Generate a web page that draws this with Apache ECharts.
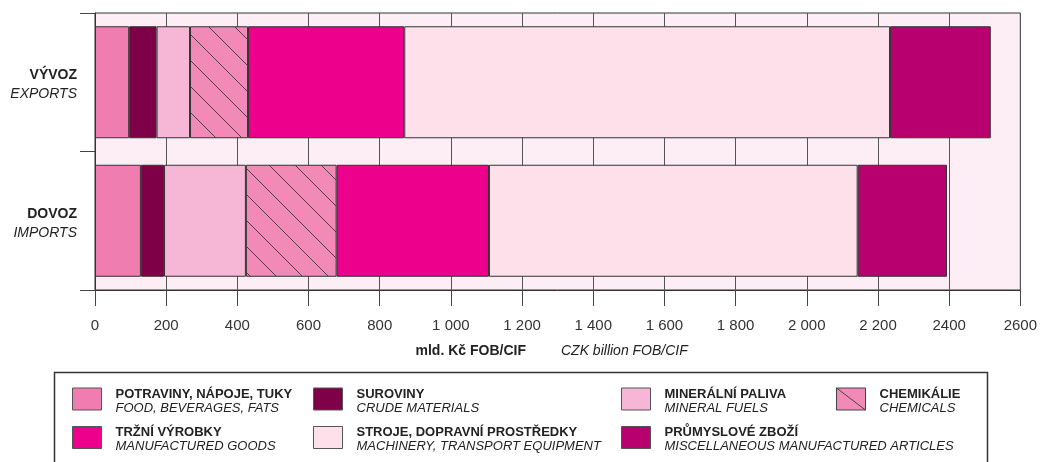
<!DOCTYPE html>
<html>
<head>
<meta charset="utf-8">
<script src="https://cdn.jsdelivr.net/npm/echarts@6/dist/echarts.min.js"></script>
<style>
html,body{margin:0;padding:0;background:#fff;}
#chart{width:1040px;height:462px;}
</style>
</head>
<body>
<div id="chart"></div>
<script>
// ---- data ----
var categoriesCz = ['VÝVOZ', 'DOVOZ'];
var categoriesEn = ['EXPORTS', 'IMPORTS'];
var tickLabels = ['0', '200', '400', '600', '800', '1 000', '1 200', '1 400', '1 600', '1 800', '2 000', '2 200', '2400', '2600'];

var seriesNamesCz = ['POTRAVINY, NÁPOJE, TUKY', 'SUROVINY', 'MINERÁLNÍ PALIVA', 'CHEMIKÁLIE', 'TRŽNÍ VÝROBKY', 'STROJE, DOPRAVNÍ PROSTŘEDKY', 'PRŮMYSLOVÉ ZBOŽÍ'];
var seriesNamesEn = ['FOOD, BEVERAGES, FATS', 'CRUDE MATERIALS', 'MINERAL FUELS', 'CHEMICALS', 'MANUFACTURED GOODS', 'MACHINERY, TRANSPORT EQUIPMENT', 'MISCELLANEOUS MANUFACTURED ARTICLES'];

// [exports, imports], CZK billion
var food = [96, 129];
var crude = [77, 65];
var fuels = [94, 230];
var chemicals = [163, 255];
var manufactured = [439, 428];
var machinery = [1365, 1036];
var misc = [283, 251];

var seriesValues = [food, crude, fuels, chemicals, manufactured, machinery, misc];

// ---- styles ----
function hatchTile(w, h, bg) {
  var c = document.createElement('canvas');
  c.width = w; c.height = h;
  var ctx = c.getContext('2d');
  ctx.fillStyle = bg;
  ctx.fillRect(0, 0, w, h);
  ctx.strokeStyle = '#3a3a3a';
  ctx.lineWidth = 0.9;
  ctx.beginPath();
  ctx.moveTo(-2 * w / h, -2);
  ctx.lineTo(w + 2 * w / h, h + 2);
  ctx.stroke();
  return c;
}
var chemBg = '#f28ab8';
var hatchPattern = { image: hatchTile(26, 26, chemBg), repeat: 'repeat' };

var colors = ['#f07db0', '#7e0046', '#f6b6d5', hatchPattern, '#ec008c', '#fde0ea', '#b8006e'];

var names = seriesNamesCz.map(function (n, i) { return n + '|' + seriesNamesEn[i]; });

var series = seriesValues.map(function (vals, i) {
  return {
    name: names[i],
    type: 'bar',
    stack: 'total',
    barWidth: 112,
    data: vals,
    itemStyle: { color: colors[i], borderColor: '#333', borderWidth: 1 },
    emphasis: { disabled: true }
  };
});

var FONT = 'Liberation Sans, Arial, sans-serif';
var legendText = {
  fontFamily: FONT,
  color: '#222',
  padding: [0, 0, 0, 9],
  rich: {
    sp: { fontSize: 4, lineHeight: 4, width: 1 },
    b: { fontWeight: 'bold', fontSize: 13, lineHeight: 14, color: '#222', fontFamily: FONT },
    i: { fontStyle: 'italic', fontSize: 13, lineHeight: 14, color: '#222', fontFamily: FONT }
  }
};
function legendFormatter(name) {
  var p = name.split('|');
  return '{sp| }\n{b|' + p[0] + '}\n{i|' + p[1] + '}';
}
function makeLegend(left, idxs) {
  return {
    left: left,
    top: 383,
    orient: 'vertical',
    padding: 0,
    itemGap: 7,
    itemWidth: 29,
    itemHeight: 22,
    selectedMode: false,
    icon: 'rect',
    itemStyle: { borderColor: '#555', borderWidth: 1 },
    textStyle: legendText,
    formatter: legendFormatter,
    data: idxs.map(function (k) {
      var d = { name: names[k] };
      if (k === 3) {
        d.icon = 'path://M0,0L29,0L29,22L0,22ZM0,0L29,22';
        d.itemStyle = { color: chemBg, borderColor: '#444', borderWidth: 1 };
      }
      return d;
    })
  };
}

var option = {
  animation: false,
  backgroundColor: '#fff',
  textStyle: { fontFamily: FONT },
  grid: {
    left: 95, right: 19, top: 13, bottom: 172,
    show: true, backgroundColor: '#fdeef5', borderColor: '#333', borderWidth: 1
  },
  xAxis: {
    type: 'value',
    min: 0, max: 2600, interval: 200,
    axisLine: { show: true, lineStyle: { color: '#333', width: 1 } },
    axisTick: { show: true, length: 16, lineStyle: { color: '#444' } },
    splitLine: { show: true, lineStyle: { color: '#555', width: 1 } },
    axisLabel: {
      margin: 28,
      fontSize: 15,
      color: '#333',
      fontFamily: FONT,
      formatter: function (v) { return tickLabels[Math.round(v / 200)]; }
    },
    name: '{b|mld. Kč FOB/CIF}{s|}{i|CZK billion FOB/CIF}',
    nameLocation: 'middle',
    nameGap: 54,
    nameTextStyle: {
      padding: [0, 12, 0, 0],
      rich: {
        b: { fontWeight: 'bold', fontSize: 14, color: '#222', fontFamily: FONT },
        s: { width: 35 },
        i: { fontStyle: 'italic', fontSize: 14, color: '#222', fontFamily: FONT }
      }
    }
  },
  yAxis: {
    type: 'category',
    inverse: true,
    data: categoriesCz,
    axisLine: { show: true, lineStyle: { color: '#333' } },
    axisTick: { show: true, length: 15, lineStyle: { color: '#444' } },
    axisLabel: {
      margin: 18,
      align: 'right',
      padding: [5, 0, 0, 0],
      formatter: function (v, i) { return '{b|' + categoriesCz[i] + '}\n{i|' + categoriesEn[i] + '}'; },
      rich: {
        b: { fontWeight: 'bold', fontSize: 14, lineHeight: 19, color: '#222', align: 'right', fontFamily: FONT },
        i: { fontStyle: 'italic', fontSize: 14, lineHeight: 19, color: '#222', align: 'right', fontFamily: FONT }
      }
    }
  },
  legend: [
    makeLegend(72, [0, 4]),
    makeLegend(313, [1, 5]),
    makeLegend(621, [2, 6]),
    makeLegend(836, [3])
  ],
  graphic: [{
    type: 'rect',
    shape: { x: 54.5, y: 372.5, width: 933, height: 120 },
    style: { fill: 'none', stroke: '#333', lineWidth: 1.5 },
    silent: true,
    z: -1
  }],
  series: series
};

var chart = echarts.init(document.getElementById('chart'), null, { renderer: 'canvas' });
chart.setOption(option);
</script>
</body>
</html>
